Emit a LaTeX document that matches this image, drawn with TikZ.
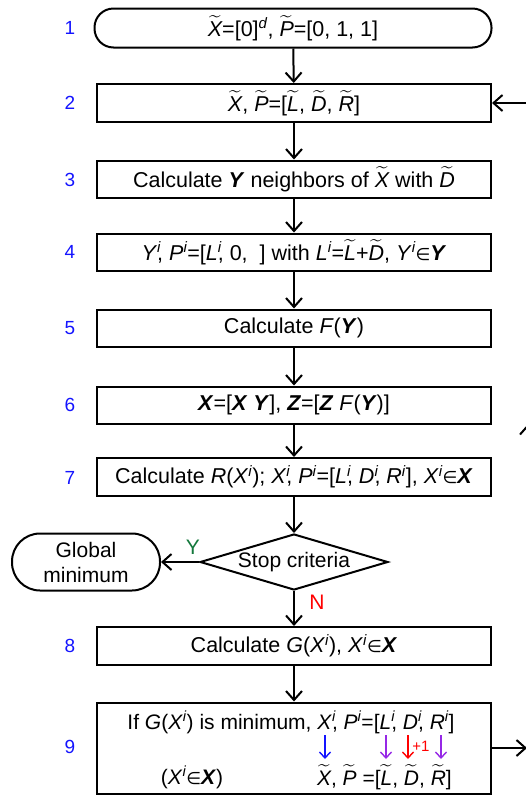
\documentclass[tikz,border=0pt]{standalone}
\usepackage{amsmath}
\usepackage{fontspec}
\setmainfont{Liberation Sans}
\newfontfamily\symf{DejaVu Sans}
\usetikzlibrary{arrows.meta,shapes.geometric}
\definecolor{numblue}{RGB}{20,20,255}
\definecolor{arrpurple}{RGB}{150,40,230}
\definecolor{ygreen}{RGB}{20,120,60}
\newcommand\tl[1]{\ensuremath{\widetilde{\text{\itshape #1}}}}
\newcommand\bi[1]{\textbf{\textit{#1}}}
\newcommand\su{\textsuperscript{\itshape i}}
\newcommand\inn{{\symf\upshape\fontsize{17}{19}\selectfont ∈}}
\newcommand\xic[1]{\textit{#1}\rlap{\textsuperscript{\itshape i}},}
\begin{document}
\begin{tikzpicture}[x=1pt,y=-1pt,
  font=\fontsize{21.5}{25}\selectfont,
  >={Straight Barb[length=9pt,width=16pt]},
  line width=2pt,
  box/.style={draw, minimum width=394pt, minimum height=38pt, inner sep=0pt},
  term/.style={draw, rounded corners=19pt, minimum width=397pt, minimum height=39pt, inner sep=0pt},
  num/.style={text=numblue, font=\fontsize{19}{22}\selectfont},
  flow/.style={->},
  small/.style={font=\fontsize{21}{24}\selectfont},
  inner/.style={->, line width=1.4pt, >={Straight Barb[length=6pt,width=11pt]}}]
\useasboundingbox (0,0) rectangle (526,796);

\node[term] (b1) at (293,28) {\tl{X}=[0]\textsuperscript{\itshape d}, \tl{P}=[0, 1, 1]};
\node[box] (b2) at (294,103) {\tl{X}, \tl{P}=[\tl{L}, \tl{D}, \tl{R}]};
\node[box, minimum height=37pt] (b3) at (294,179) {Calculate \bi{Y} neighbors of \tl{X} with \tl{D}};
\node[box, minimum height=37pt] (b4) at (294,252) {\xic{Y} \textit{P}\su=[\xic{L} 0,\ \ ] with \textit{L}\su=\tl{L}+\tl{D}, \textit{Y}\su\inn\bi{Y}};
\node[box, minimum height=37pt] (b5) at (294,328) {Calculate \textit{F}(\bi{Y})};
\node[box, minimum height=37pt] (b6) at (294,405) {\bi{X}=[\bi{X} \bi{Y}], \bi{Z}=[\bi{Z} \textit{F}(\bi{Y})]};
\node[box] (b7) at (294,477) {Calculate \textit{R}(\textit{X}\su); \xic{X} \textit{P}\su=[\xic{L} \xic{D} \textit{R}\su], \textit{X}\su\inn\bi{X}};
\node[draw, diamond, aspect=3.36, minimum width=188pt, minimum height=56pt, inner sep=0pt, small] (d) at (294,562) {Stop criteria};
\node[draw, rounded corners=28pt, minimum width=148pt, minimum height=57pt, inner sep=0pt, align=center, font=\fontsize{21}{25}\selectfont] (gm) at (86,562) {Global\\minimum};
\node[box] (b8) at (294,646) {Calculate \textit{G}(\textit{X}\su), \textit{X}\su\inn\bi{X}};
\node[box, minimum height=91pt] (b9) at (294,748) {};

% box 9 contents
\node[inner sep=0pt, anchor=base, small] (t9a) at (291,729) {If \textit{G}(\textit{X}\su) is minimum, \xic{X} \textit{P}\su=[\xic{L} \xic{D} \textit{R}\su]};
\node[inner sep=0pt, anchor=base, small] (t9b) at (192,784) {(\textit{X}\su\inn\bi{X})};
\node[inner sep=0pt, anchor=base west, small] (t9c) at (316,785) {\tl{X}, \tl{P} =[\tl{L}, \tl{D}, \tl{R}]};
\coordinate (a1s) at (325,735); \coordinate (a1e) at (325,759);
\coordinate (a2s) at (386,735); \coordinate (a2e) at (386,759);
\coordinate (a3s) at (408,735); \coordinate (a3e) at (408,759);
\coordinate (a4s) at (441,735); \coordinate (a4e) at (441,759);
\draw[inner, numblue] (a1s) -- (a1e);
\draw[inner, arrpurple] (a2s) -- (a2e);
\draw[inner, red] (a3s) -- (a3e);
\draw[inner, arrpurple] (a4s) -- (a4e);
\node[text=red, inner sep=0pt, font=\fontsize{15}{17}\selectfont] (p1) at (421,746) {+1};

% numbers
\node[num] (n1) at (70,28) {1};
\node[num] (n2) at (70,103) {2};
\node[num] (n3) at (70,180) {3};
\node[num] (n4) at (70,252) {4};
\node[num] (n5) at (70,328) {5};
\node[num] (n6) at (70,405) {6};
\node[num] (n7) at (70,478) {7};
\node[num] (n8) at (70,646) {8};
\node[num] (n9) at (70,747) {9};

% connectors
\draw[flow] (b1) -- (b2);
\draw[flow] (b2) -- (b3);
\draw[flow] (b3) -- (b4);
\draw[flow] (b4) -- (b5);
\draw[flow] (b5) -- (b6);
\draw[flow] (b6) -- (b7);
\draw[flow] (b7) -- (d);
\draw[flow] (d) -- (b8);
\draw[flow] (d) -- (gm);
\draw[flow] (b8) -- (b9);
\node[text=ygreen, inner sep=0pt, small] (ly) at (193,547) {Y};
\node[text=red, inner sep=0pt, small] (ln) at (317,602) {N};

% feedback (cropped at right edge)
\coordinate (r1) at (527,748);
\coordinate (r2) at (532,103);
\coordinate (r3) at (528,790);
\coordinate (r4) at (528,424);
\draw[flow] (b9.east) -- (r1);
\draw[flow] (r2) -- (b2.east);
\draw[flow] (r3) -- (r4);
\end{tikzpicture}
\end{document}
